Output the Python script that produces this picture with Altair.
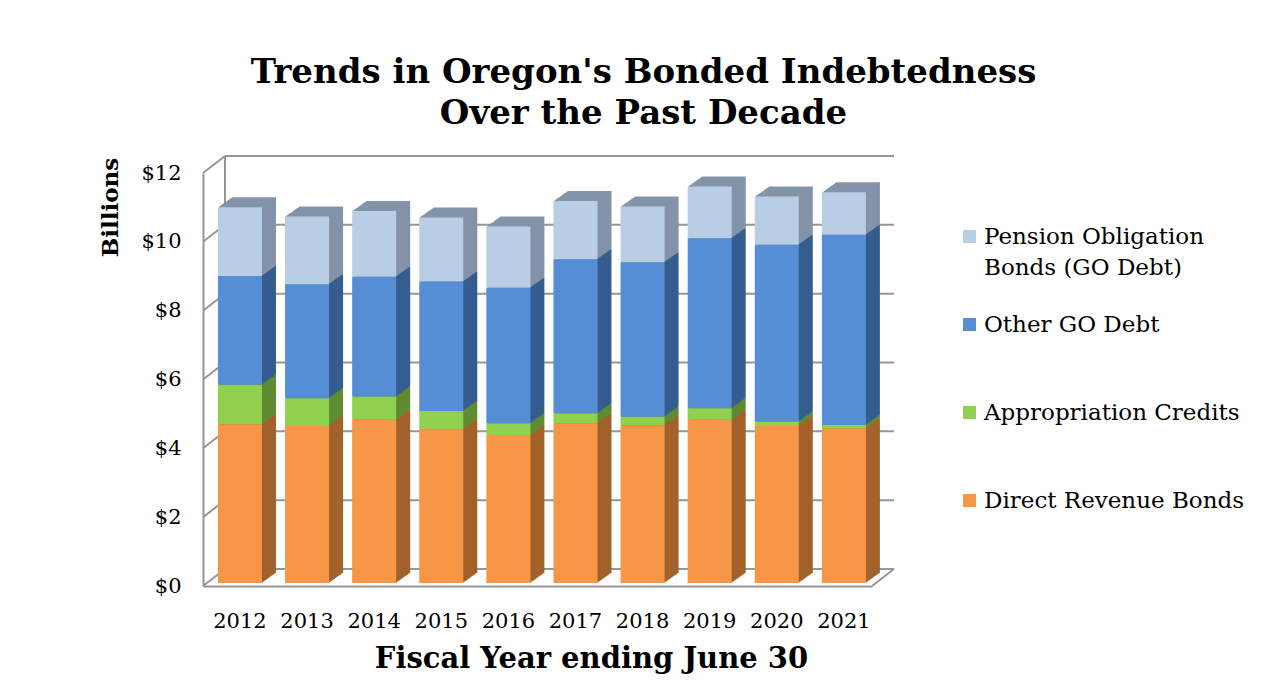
import altair as alt
import pandas as pd

# ---- data (billions of dollars) ----
years = ["2012", "2013", "2014", "2015", "2016", "2017", "2018", "2019", "2020", "2021"]
direct_revenue = [4.61, 4.56, 4.74, 4.47, 4.30, 4.64, 4.58, 4.74, 4.56, 4.50]
appropriation = [1.15, 0.81, 0.68, 0.53, 0.34, 0.29, 0.25, 0.34, 0.13, 0.09]
other_go = [3.16, 3.31, 3.48, 3.76, 3.94, 4.48, 4.49, 4.94, 5.14, 5.53]
pension = [2.00, 1.97, 1.91, 1.86, 1.78, 1.69, 1.62, 1.50, 1.40, 1.23]

series_names = ["Direct Revenue Bonds", "Appropriation Credits", "Other GO Debt",
                "Pension Obligation Bonds (GO Debt)"]
series_values = [direct_revenue, appropriation, other_go, pension]
front_colors = ["#F79646", "#92D050", "#558ED5", "#B9CDE5"]
side_colors = ["#A3622B", "#5F8C33", "#355D90", "#8393A9"]
tick_values = [0, 2, 4, 6, 8, 10, 12]

rows = []
for i, yr in enumerate(years):
    for k, (name, vals) in enumerate(zip(series_names, series_values)):
        rows.append({"year": yr, "series": name, "value": vals[i], "ord": k})
df = pd.DataFrame(rows)
grid_df = pd.DataFrame({"v": tick_values})

# ---- layout ----
W, H = 669, 413
DX, DY = 22, 17          # depth of walls
BDX, BDY = 14, 10        # depth of bars
BASE = -3
FONT = "DejaVu Serif"
GRID = "#969696"

x_scale = alt.Scale(domain=years, paddingInner=0.344, paddingOuter=0.157, align=0.71)
y_scale = alt.Scale(domain=[0, 12], nice=False, zero=True)

x_axis = alt.Axis(labelAngle=0, ticks=False, labelPadding=24, labelFont=FONT,
                  labelFontSize=21, labelColor="black", domainColor=GRID,
                  domainWidth=2, grid=False, titleFont=FONT, titleFontSize=29,
                  titleFontWeight="bold", titleColor="black", titleX=388, titleY=81,
                  titleAlign="center", titleBaseline="alphabetic")
y_axis = alt.Axis(values=tick_values, labelExpr="'$' + datum.value", ticks=False,
                  labelPadding=22, labelFont=FONT, labelFontSize=21,
                  labelColor="black", domainColor=GRID, domainWidth=2, grid=False,
                  titleFont=FONT, titleFontSize=23, titleFontWeight="bold",
                  titleColor="black", titleX=-93, titleY=34, titleAngle=270,
                  titleAlign="center", titleBaseline="middle")

x_enc = alt.X("year:N", scale=x_scale, title="Fiscal Year ending June 30", axis=x_axis)
y_enc = alt.Y("value:Q", stack="zero", scale=y_scale, title="Billions", axis=y_axis)

legend_order = series_names[::-1]
legend_colors = front_colors[::-1]

# ---- walls / grid ----
grid_y = alt.Y("v:Q", scale=y_scale, title="Billions", axis=y_axis)
back_grid = alt.Chart(grid_df).mark_rule(color=GRID, strokeWidth=2, yOffset=-DY, y2Offset=-DY).encode(
    y=grid_y, x=alt.value(DX), x2=alt.value(W + DX))
wall_diag = alt.Chart(grid_df).mark_rule(color=GRID, strokeWidth=2, y2Offset=-DY).encode(
    y=grid_y, y2=alt.Y2("v:Q"), x=alt.value(0), x2=alt.value(DX))
wall_back = alt.Chart(grid_df).transform_filter("datum.v == 0").transform_calculate(
    top="12").mark_rule(color=GRID, strokeWidth=2, yOffset=-DY, y2Offset=-DY).encode(
    y=grid_y, y2=alt.Y2("top:Q"), x=alt.value(DX))
floor_right = alt.Chart(grid_df).transform_filter("datum.v == 0").mark_rule(
    color=GRID, strokeWidth=2, y2Offset=-DY).encode(
    y=grid_y, y2=alt.Y2("v:Q"), x=alt.value(W), x2=alt.value(W + DX))

layers = [back_grid, wall_diag, wall_back, floor_right]

# ---- bar depth (side and top faces) ----
N = 14
for k in range(N, 0, -1):
    ox = BDX * k / N
    oy = BASE - BDY * k / N
    layers.append(
        alt.Chart(df).mark_bar(xOffset=ox, x2Offset=ox, yOffset=oy, y2Offset=oy).encode(
            x=x_enc, y=y_enc,
            fill=alt.Fill("series:N", scale=alt.Scale(domain=series_names, range=side_colors),
                          legend=None),
            order=alt.Order("ord:Q"))
    )

# ---- front faces ----
layers.append(
    alt.Chart(df).mark_bar(yOffset=BASE, y2Offset=BASE).encode(
        x=x_enc, y=y_enc,
        color=alt.Color("series:N", scale=alt.Scale(domain=legend_order, range=legend_colors),
                        legend=alt.Legend(
                            title=None, orient="none", legendX=755, legendY=52,
                            symbolType="square", symbolSize=169, symbolStrokeWidth=0,
                            labelFont=FONT, labelFontSize=23, labelColor="black",
                            labelOffset=3, labelLimit=400, rowPadding=33, padding=0,
                            labelExpr="datum.label == 'Pension Obligation Bonds (GO Debt)' ? ['Pension Obligation', 'Bonds (GO Debt)'] : [datum.label, ' ']")),
        order=alt.Order("ord:Q"))
)

chart = alt.layer(*layers).properties(
    width=W, height=H,
    title=alt.Title(["Trends in Oregon's Bonded Indebtedness", "Over the Past Decade"],
                    font=FONT, fontSize=34, fontWeight="bold", color="black",
                    anchor="middle", dx=106, lineHeight=41, offset=24),
    padding={"left": 195, "top": 165, "right": 395, "bottom": 90},
    autosize=alt.AutoSizeParams(type="none"),
).configure(
    style={"guide-label": {"lineHeight": 31}},
    view=alt.ViewConfig(stroke=None),
)

chart.save("out.html", embed_options={"renderer": "svg", "actions": False})
